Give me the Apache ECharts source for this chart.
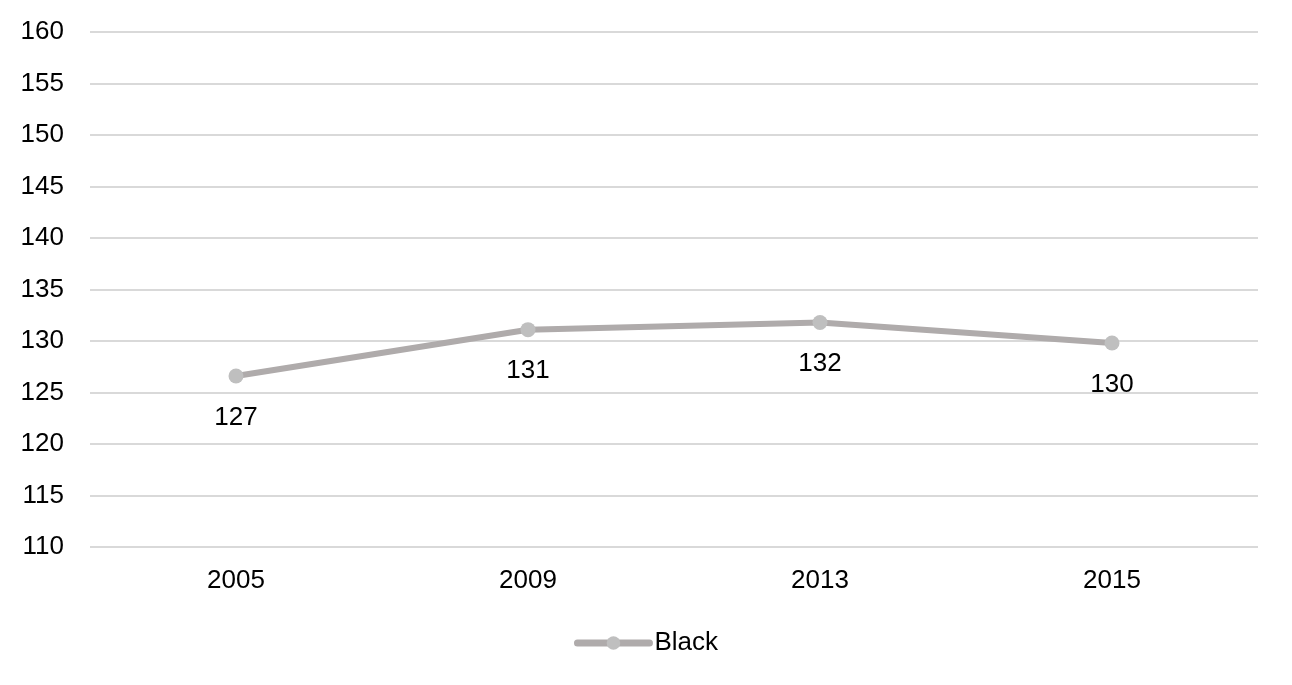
<!DOCTYPE html>
<html><head><meta charset="utf-8">
<script src="https://cdn.jsdelivr.net/npm/echarts@6/dist/echarts.min.js"></script>
<style>html,body{margin:0;padding:0;background:#fff}#c{width:1292px;height:685px}</style>
</head><body><div id="c"></div>
<script>
const categories = ['2005', '2009', '2013', '2015'];
const blackValues = [126.6, 131.1, 131.8, 129.8];
const yTicks = { min: 110, max: 160, interval: 5 };

const chart = echarts.init(document.getElementById('c'), null, { renderer: 'canvas' });
const font = 'Liberation Sans, Arial, sans-serif';
chart.setOption({
  animation: false,
  grid: { left: 90, right: 34, top: 32, bottom: 138, containLabel: false },
  legend: {
    bottom: 24, left: 'center',
    itemWidth: 72, itemHeight: 17, itemGap: 8,
    lineStyle: { width: 7, color: '#AFABAB', cap: 'round' },
    itemStyle: { color: '#BFBFBF' },
    textStyle: { fontFamily: font, fontSize: 26, color: '#000' },
    data: ['Black']
  },
  xAxis: {
    type: 'category', data: categories, boundaryGap: true,
    axisLine: { show: false }, axisTick: { show: false },
    axisLabel: { fontFamily: font, fontSize: 26, color: '#000', margin: 21 }
  },
  yAxis: {
    type: 'value', min: yTicks.min, max: yTicks.max, interval: yTicks.interval,
    axisLine: { show: false }, axisTick: { show: false },
    axisLabel: { fontFamily: font, fontSize: 26, color: '#000', margin: 26 },
    splitLine: { lineStyle: { color: '#D9D9D9', width: 2 } }
  },
  series: [{
    name: 'Black', type: 'line', data: blackValues,
    symbol: 'circle', symbolSize: 15,
    lineStyle: { color: '#AFABAB', width: 6 },
    itemStyle: { color: '#BFBFBF' },
    label: {
      show: true, position: 'bottom', distance: 21,
      fontFamily: font, fontSize: 26, color: '#000',
      formatter: p => Math.round(p.value)
    }
  }]
});
</script></body></html>
